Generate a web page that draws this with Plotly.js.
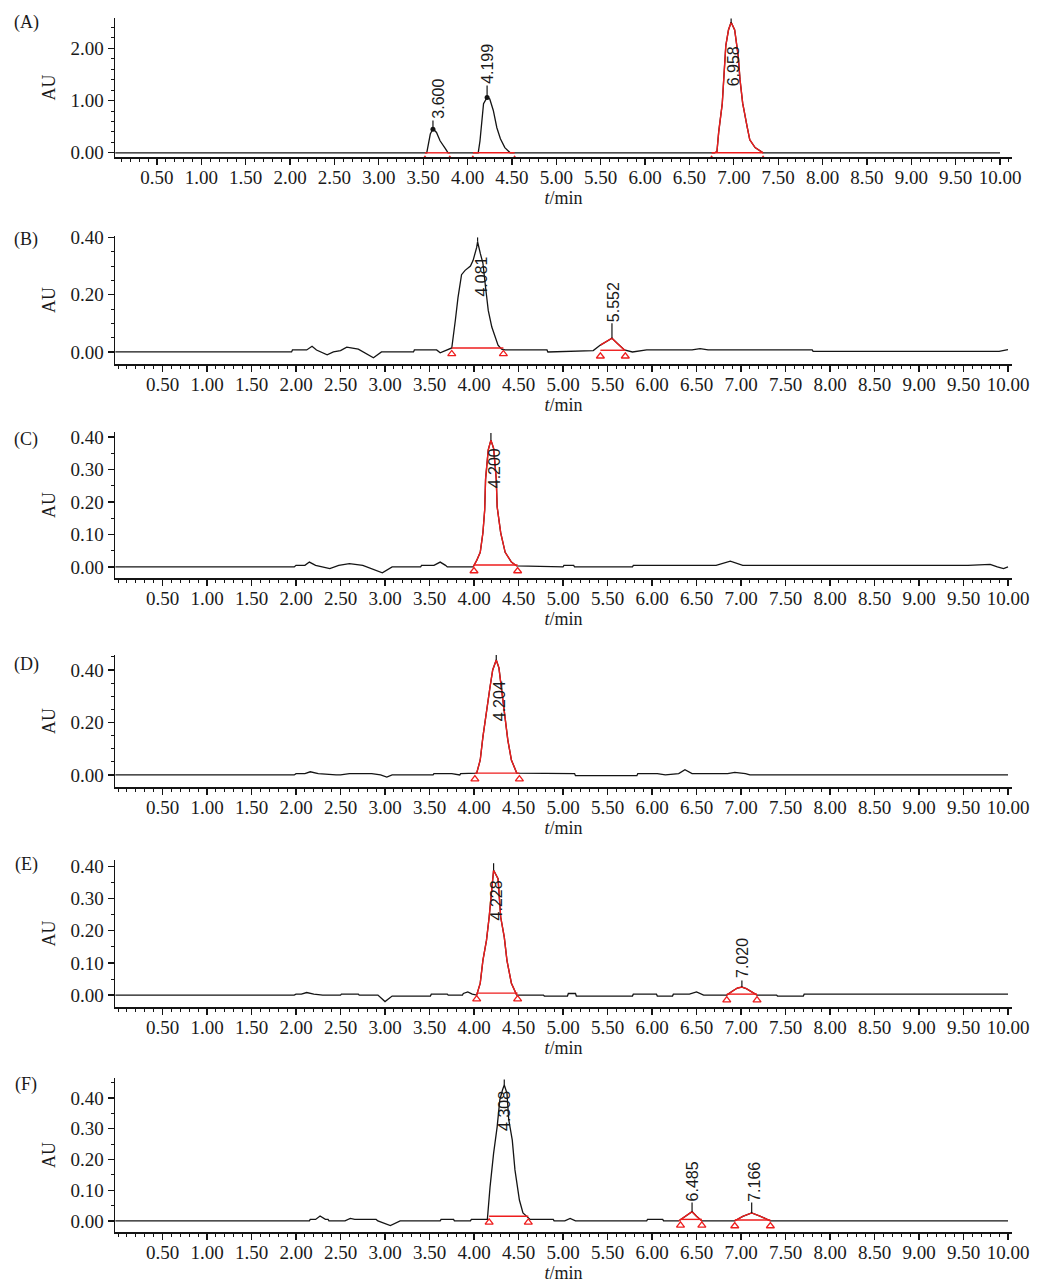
<!DOCTYPE html>
<html><head><meta charset="utf-8">
<script src="https://cdn.plot.ly/plotly-3.0.1.min.js"></script>
<style>html,body{margin:0;padding:0;background:#fff}#chart{width:1053px;height:1286px}</style>
</head><body><div id="chart"></div>
<script>
// ---------------- DATA ----------------
const panelNames = ['(A)','(B)','(C)','(D)','(E)','(F)'];
const xTickVals = [0.5,1,1.5,2,2.5,3,3.5,4,4.5,5,5.5,6,6.5,7,7.5,8,8.5,9,9.5,10];
const xTickText = ['0.50','1.00','1.50','2.00','2.50','3.00','3.50','4.00','4.50','5.00','5.50','6.00','6.50','7.00','7.50','8.00','8.50','9.00','9.50','10.00'];
const yTicksA = [0,1,2], yTextA = ['0.00','1.00','2.00'];
const yTicks02 = [0,0.2,0.4], yText02 = ['0.00','0.20','0.40'];
const yTicks01 = [0,0.1,0.2,0.3,0.4], yText01 = ['0.00','0.10','0.20','0.30','0.40'];

// chromatograms: [t (min), AU]
const traceA = [[0.03,0],[3.54,0],[3.58,0.36],[3.61,0.46],[3.65,0.39],[3.69,0.23],[3.75,0.08],[3.78,0],
 [4.12,0],[4.14,0.23],[4.18,0.94],[4.22,1.06],[4.25,1.03],[4.29,0.81],[4.33,0.48],[4.37,0.27],[4.42,0.10],[4.48,0],
 [6.78,0],[6.81,0.02],[6.83,0.40],[6.87,0.94],[6.89,1.50],[6.91,2.05],[6.94,2.35],[6.97,2.50],[7.01,2.35],[7.05,1.85],
 [7.07,1.40],[7.10,0.95],[7.15,0.50],[7.18,0.25],[7.24,0.10],[7.29,0.04],[7.33,0],[10.0,0]];
const traceB = [[-0.03,0],[1.95,0],[1.96,0.007],[2.12,0.007],[2.18,0.02],[2.23,0.007],[2.35,-0.01],[2.42,0],[2.50,0.005],
 [2.57,0.017],[2.70,0.01],[2.87,-0.02],[2.96,0],[3.32,0],[3.33,0.007],[3.58,0.007],[3.62,-0.003],[3.70,0.007],
 [3.75,0.014],[3.79,0.11],[3.82,0.19],[3.86,0.27],[3.90,0.285],[3.96,0.30],[3.99,0.32],[4.03,0.365],[4.04,0.385],
 [4.07,0.345],[4.10,0.31],[4.13,0.225],[4.16,0.145],[4.20,0.087],[4.24,0.052],[4.27,0.024],[4.31,0.01],[4.35,0.007],
 [4.82,0.007],[4.83,0],[5.34,0.005],[5.42,0.024],[5.55,0.048],[5.61,0.03],[5.69,0.007],[5.78,0],[5.94,0.007],
 [6.45,0.007],[6.54,0.012],[6.63,0.007],[7.80,0.007],[7.81,0.002],[9.90,0.002],[10.0,0.008]];
const traceC = [[-0.03,0],[1.98,0],[2.0,0.005],[2.10,0.005],[2.15,0.015],[2.22,0.005],[2.38,-0.005],[2.48,0.005],
 [2.60,0.01],[2.75,0.005],[2.97,-0.018],[3.08,0],[3.40,0],[3.41,0.005],[3.55,0.005],[3.62,0.015],[3.68,0.005],[3.70,0],
 [3.99,0],[4.03,0.02],[4.07,0.045],[4.10,0.105],[4.12,0.175],[4.13,0.27],[4.16,0.36],[4.19,0.39],[4.22,0.365],
 [4.25,0.27],[4.26,0.185],[4.30,0.105],[4.35,0.045],[4.42,0.015],[4.48,0.003],[5.00,0],[5.01,0.005],[5.12,0.005],
 [5.13,0],[5.78,0],[5.79,0.005],[6.72,0.005],[6.88,0.018],[7.02,0.005],[9.55,0.005],[9.80,0.008],[9.88,0],[9.95,-0.005],[10.0,0]];
const traceD = [[-0.03,0],[1.98,0],[2.0,0.005],[2.10,0.005],[2.16,0.012],[2.25,0.005],[2.45,0],[2.50,0],[2.60,0.005],
 [2.85,0.005],[2.95,0],[3.02,-0.008],[3.08,0],[3.54,0],[3.55,0.005],[3.75,0.005],[3.84,0],[3.85,0.005],
 [4.03,0.007],[4.07,0.057],[4.10,0.145],[4.14,0.247],[4.18,0.335],[4.21,0.40],[4.25,0.438],[4.28,0.408],[4.31,0.324],
 [4.35,0.22],[4.38,0.133],[4.42,0.057],[4.48,0.007],[5.13,0.005],[5.14,-0.003],[5.83,-0.003],[5.84,0.005],[6.06,0.005],
 [6.15,0],[6.30,0.005],[6.37,0.02],[6.45,0.005],[6.85,0.005],[6.93,0.01],[7.05,0.005],[7.10,0],[10.0,0]];
const traceE = [[-0.03,0],[1.98,0],[2.0,0.003],[2.06,0.003],[2.12,0.008],[2.20,0.003],[2.30,0],[2.50,0],[2.51,0.003],
 [2.70,0.003],[2.71,0],[2.92,0],[3.00,-0.02],[3.08,-0.003],[3.51,-0.003],[3.52,0.003],[3.70,0.003],[3.71,0],[3.87,0],
 [3.88,0.005],[3.93,0.01],[3.98,0.003],[4.03,0],[4.07,0.037],[4.10,0.108],[4.14,0.17],[4.17,0.242],[4.20,0.347],
 [4.22,0.388],[4.27,0.362],[4.30,0.242],[4.34,0.18],[4.37,0.108],[4.42,0.037],[4.48,0],[4.78,0],[4.79,-0.003],
 [5.05,-0.003],[5.06,0.005],[5.14,0.005],[5.15,-0.003],[5.78,-0.003],[5.79,0.003],[6.05,0.003],[6.06,-0.003],
 [6.23,-0.003],[6.24,0.003],[6.42,0.003],[6.50,0.01],[6.58,0],[6.84,0],[6.90,0.012],[6.96,0.022],[7.01,0.025],
 [7.06,0.02],[7.12,0.01],[7.18,0],[7.40,0],[7.41,-0.003],[7.70,-0.003],[7.71,0.003],[10.0,0.003]];
const traceF = [[-0.03,0],[2.15,0],[2.16,0.005],[2.22,0.005],[2.27,0.016],[2.33,0.005],[2.36,0.005],[2.37,0],[2.55,0],
 [2.61,0.008],[2.66,0.005],[2.90,0.005],[2.92,0],[3.06,-0.015],[3.17,0],[3.62,0],[3.63,0.005],[3.77,0.005],[3.78,0],
 [3.96,0],[3.97,0.005],[4.15,0.005],[4.18,0.11],[4.22,0.22],[4.26,0.306],[4.29,0.394],[4.32,0.426],[4.34,0.442],
 [4.37,0.416],[4.39,0.33],[4.43,0.263],[4.46,0.166],[4.51,0.068],[4.55,0.026],[4.63,0.005],[4.89,0.005],[4.90,0],
 [5.02,0],[5.08,0.008],[5.14,0],[5.94,0],[5.95,0.005],[6.12,0.005],[6.13,0],[6.30,0],[6.38,0.015],[6.45,0.03],
 [6.50,0.015],[6.56,0],[6.93,0],[7.02,0.015],[7.12,0.026],[7.22,0.015],[7.33,0],[10.0,0]];

// integration baselines: [start, end, level]
const baseA = [[3.52,3.80,0],[4.06,4.53,0],[6.75,7.33,0]];
const baseB = [[3.75,4.33,0.014],[5.42,5.70,0.006]];
const baseC = [[4.00,4.49,0.006]];
const baseD = [[4.01,4.51,0.007]];
const baseE = [[4.03,4.49,0.006],[6.84,7.18,0.003]];
const baseF = [[4.17,4.61,0.015],[6.32,6.56,0.005],[6.93,7.33,0.003]];

// peaks drawn in red: [start, end]
const redA = [[6.78,7.33]];
const redB = [[5.40,5.70]];
const redC = [[3.99,4.49]];
const redD = [[4.01,4.50]];
const redE = [[4.03,4.49],[6.84,7.18]];
const redF = [[6.30,6.56],[6.93,7.33]];

// retention-time labels: text, [t, AU at label foot]
const labTextA = ['3.600','4.199','6.958'], labPosA = [[3.67,0.64],[4.23,1.30],[7.00,1.25]];
const labTextB = ['4.081','5.552'], labPosB = [[4.09,0.19],[5.56,0.10]];
const labTextC = ['4.200'], labPosC = [[4.24,0.24]];
const labTextD = ['4.204'], labPosD = [[4.29,0.20]];
const labTextE = ['4.228','7.020'], labPosE = [[4.25,0.23],[7.01,0.05]];
const labTextF = ['4.308','6.485','7.166'], labPosF = [[4.35,0.29],[6.46,0.06],[7.15,0.06]];

// apex leader ticks: [t, AU from, AU to]
const leadA = [[3.61,0.46,0.62],[4.22,1.06,1.29],[6.97,2.48,2.57]];
const leadB = [[4.04,0.385,0.40],[5.55,0.048,0.10]];
const leadC = [[4.19,0.39,0.412]];
const leadD = [[4.25,0.438,0.457]];
const leadE = [[4.22,0.388,0.41],[7.01,0.025,0.045]];
const leadF = [[4.34,0.442,0.46],[6.45,0.03,0.06],[7.12,0.026,0.06]];
const apexDotsA = [[3.61,0.45],[4.22,1.06]];

// ---------------- LAYOUT / DRAWING ----------------
const W = 1053, H = 1286;
const BLACK = '#141414', RED = '#ee1d1d';
const serif = 'Liberation Serif, Times New Roman, serif';
const panels = [
  {tr: traceA, base: baseA, red: redA, lt: labTextA, lp: labPosA, ld: leadA, yt: yTicksA, ytt: yTextA, minor: 0.2, yr: [-0.08,2.58], xr: [0.027,10.135], box: [18,157], lab: 22},
  {tr: traceB, base: baseB, red: redB, lt: labTextB, lp: labPosB, ld: leadB, yt: yTicks02, ytt: yText02, minor: 0.05, yr: [-0.042,0.405], xr: [-0.034,10.045], box: [236,364], lab: 240},
  {tr: traceC, base: baseC, red: redC, lt: labTextC, lp: labPosC, ld: leadC, yt: yTicks01, ytt: yText01, minor: 0.05, yr: [-0.034,0.415], xr: [-0.034,10.045], box: [432,578], lab: 440},
  {tr: traceD, base: baseD, red: redD, lt: labTextD, lp: labPosD, ld: leadD, yt: yTicks02, ytt: yText02, minor: 0.05, yr: [-0.046,0.457], xr: [-0.034,10.045], box: [655,787], lab: 664},
  {tr: traceE, base: baseE, red: redE, lt: labTextE, lp: labPosE, ld: leadE, yt: yTicks01, ytt: yText01, minor: 0.05, yr: [-0.037,0.42], xr: [-0.034,10.045], box: [860,1007], lab: 864},
  {tr: traceF, base: baseF, red: redF, lt: labTextF, lp: labPosF, ld: leadF, yt: yTicks01, ytt: yText01, minor: 0.05, yr: [-0.036,0.465], xr: [-0.034,10.045], box: [1078,1232], lab: 1084}
];

const traces = [];
const layout = {
  width: W, height: H, margin: {l:0, r:0, t:0, b:0},
  paper_bgcolor: '#ffffff', plot_bgcolor: '#ffffff',
  showlegend: false, annotations: []
};

panels.forEach((p, i) => {
  const s = i === 0 ? '' : String(i + 1);
  const xa = 'x' + s, ya = 'y' + s;
  const common = {xaxis: xa, yaxis: ya, hoverinfo: 'skip'};
  traces.push(Object.assign({type: 'scatter', mode: 'lines', x: p.tr.map(d => d[0]), y: p.tr.map(d => d[1]),
    line: {color: BLACK, width: 1.3}}, common));
  p.red.forEach(r => {
    const pts = p.tr.filter(d => d[0] >= r[0] - 1e-9 && d[0] <= r[1] + 1e-9);
    traces.push(Object.assign({type: 'scatter', mode: 'lines', x: pts.map(d => d[0]), y: pts.map(d => d[1]),
      line: {color: RED, width: 1.4}}, common));
  });
  const bx = [], by = [], tx = [], ty = [];
  const pxH = p.box[1] - p.box[0];
  const off = 6 * (p.yr[1] - p.yr[0]) / pxH;
  p.base.forEach(b => { bx.push(b[0], b[1], null); by.push(b[2], b[2], null); tx.push(b[0], b[1]); ty.push(b[2] - off, b[2] - off); });
  traces.push(Object.assign({type: 'scatter', mode: 'lines', x: bx, y: by, line: {color: RED, width: 1.4}}, common));
  traces.push(Object.assign({type: 'scatter', mode: 'markers', x: tx, y: ty,
    marker: {symbol: 'triangle-up-open', size: i === 0 ? 5 : 7, color: RED, line: {color: RED, width: 1.3}}}, common));
  const lx = [], ly = [];
  p.ld.forEach(l => { lx.push(l[0], l[0], null); ly.push(l[1], l[2], null); });
  traces.push(Object.assign({type: 'scatter', mode: 'lines', x: lx, y: ly, line: {color: BLACK, width: 1.2}}, common));
  if (i === 0) {
    traces.push(Object.assign({type: 'scatter', mode: 'markers', x: apexDotsA.map(d => d[0]), y: apexDotsA.map(d => d[1]),
      marker: {symbol: 'circle', size: 5, color: BLACK}}, common));
  }
  p.lt.forEach((t, k) => {
    layout.annotations.push({xref: xa, yref: ya, x: p.lp[k][0], y: p.lp[k][1], text: t, textangle: -90,
      showarrow: false, xanchor: 'center', yanchor: 'bottom', borderpad: 0,
      font: {family: 'Liberation Sans, Arial, sans-serif', size: 16, color: '#1a1a1a'}});
  });
  layout.annotations.push({xref: 'paper', yref: 'paper', x: 26 / W, y: 1 - p.lab / H, text: panelNames[i],
    showarrow: false, xanchor: 'center', yanchor: 'middle', font: {family: serif, size: 18, color: '#1a1a1a'}});

  const axisCommon = {
    showgrid: false, zeroline: false, showline: true, linecolor: BLACK, linewidth: 1.5,
    ticks: 'outside', tickcolor: BLACK, tickwidth: 1.3, ticklen: 6,
    tickfont: {family: serif, size: 19, color: '#1a1a1a'}, tickangle: 0
  };
  layout['xaxis' + s] = Object.assign({}, axisCommon, {
    domain: [115 / W, 1012 / W], anchor: ya, range: p.xr, tickmode: 'array', tickvals: xTickVals, ticktext: xTickText,
    ticklabelstandoff: -3,
    minor: {dtick: 0.1, tick0: 0, ticks: 'outside', ticklen: 3, tickcolor: BLACK, tickwidth: 1},
    title: {text: '<i>t</i>/min', font: {family: serif, size: 18, color: '#1a1a1a'}, standoff: 3}
  });
  layout['yaxis' + s] = Object.assign({}, axisCommon, {
    domain: [1 - p.box[1] / H, 1 - p.box[0] / H], anchor: xa, range: p.yr, tickmode: 'array', tickvals: p.yt, ticktext: p.ytt,
    minor: {dtick: p.minor, tick0: 0, ticks: 'outside', ticklen: 3, tickcolor: BLACK, tickwidth: 1},
    title: {text: 'AU', font: {family: serif, size: 18, color: '#1a1a1a'}, standoff: 10}
  });
});

Plotly.newPlot('chart', traces, layout, {staticPlot: true});
</script>
</body></html>
